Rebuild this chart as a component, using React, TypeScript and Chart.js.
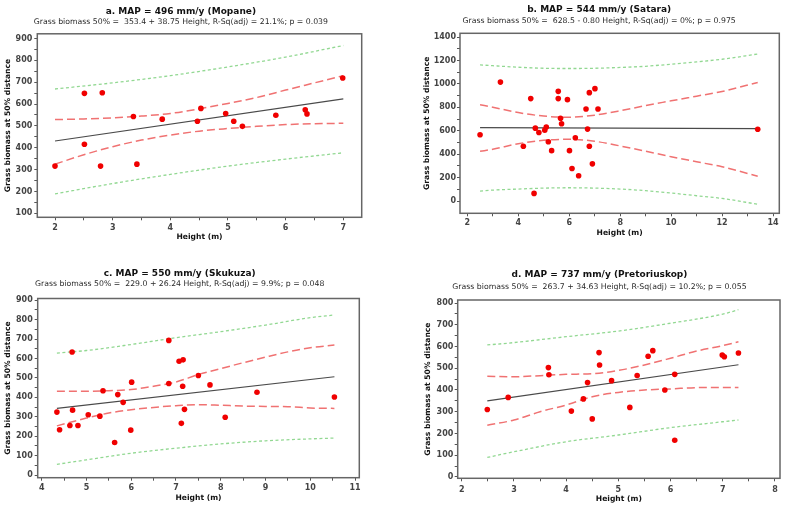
import React, { useEffect, useRef } from "react";
import { Chart, registerables } from "chart.js";

Chart.register(...registerables);
Chart.defaults.font.family = "'DejaVu Sans', sans-serif";

// ---------- Panel a : Mopane ----------
const aTitle = "a. MAP = 496 mm/y (Mopane)";
const aSubtitle = "Grass biomass 50% =  353.4 + 38.75 Height, R-Sq(adj) = 21.1%; p = 0.039";
const aHeight = [2.0, 2.51, 2.51, 2.82, 2.79, 3.36, 3.42, 3.86, 4.47, 4.53, 4.96, 5.1, 5.25, 5.83, 6.34, 6.37, 6.99];
const aBiomass = [316, 649, 416, 652, 316, 543, 325, 531, 521, 580, 557, 521, 498, 549, 574, 555, 719];
const aFitX = [2, 7];
const aFitY = [431, 624];
const aBandX = [2, 2.5, 3, 3.5, 4, 4.5, 5, 5.5, 6, 6.5, 7];
const aCiUpper = [529, 532, 537, 545, 557, 578, 603, 630, 664, 697, 730];
const aCiLower = [325, 368, 405, 435, 458, 476, 488, 498, 506, 510, 512];
const aPiX = [2, 3, 4, 5, 6, 7];
const aPiUpper = [669, 697, 730, 770, 815, 868];
const aPiLower = [189, 236, 278, 316, 348, 377];
const aXTicks = [2, 3, 4, 5, 6, 7];
const aYTicks = [100, 200, 300, 400, 500, 600, 700, 800, 900];

// ---------- Panel b : Satara ----------
const bTitle = "b. MAP = 544 mm/y (Satara)";
const bSubtitle = "Grass biomass 50% =  628.5 - 0.80 Height, R-Sq(adj) = 0%; p = 0.975";
const bHeight = [2.5, 3.3, 4.2, 4.49, 4.62, 4.67, 4.81, 5.04, 5.1, 5.18, 5.31, 5.57, 5.57, 5.66, 5.7, 5.93, 6.01, 6.11, 6.24, 6.37, 6.66, 6.72, 6.79, 6.79, 6.91, 7.01, 7.13, 13.4];
const bBiomass = [566, 1015, 467, 874, 65, 622, 585, 605, 631, 506, 430, 936, 874, 707, 659, 865, 430, 277, 540, 215, 786, 614, 925, 467, 317, 959, 786, 612];
const bFitX = [2.5, 13.4];
const bFitY = [626, 618];
const bBandX = [2.5, 3, 4, 5, 6, 7, 8, 9, 10, 11, 12, 13.4];
const bCiUpper = [822, 800, 755, 725, 715, 733, 770, 815, 855, 895, 935, 1012];
const bCiLower = [424, 442, 489, 518, 527, 510, 470, 425, 378, 335, 292, 212];
const bPiUpper = [1162, 1155, 1142, 1133, 1131, 1133, 1140, 1150, 1168, 1188, 1210, 1255];
const bPiLower = [85, 93, 102, 110, 113, 110, 102, 88, 68, 45, 22, -28];
const bXTicks = [2, 4, 6, 8, 10, 12, 14];
const bYTicks = [0, 200, 400, 600, 800, 1000, 1200, 1400];

// ---------- Panel c : Skukuza ----------
const cTitle = "c. MAP = 550 mm/y (Skukuza)";
const cSubtitle = "Grass biomass 50% =  229.0 + 26.24 Height, R-Sq(adj) = 9.9%; p = 0.048";
const cHeight = [4.34, 4.4, 4.63, 4.68, 4.69, 4.81, 5.04, 5.3, 5.37, 5.63, 5.7, 5.82, 5.99, 6.01, 6.84, 6.84, 7.07, 7.16, 7.12, 7.15, 7.19, 7.5, 7.76, 8.1, 8.81, 10.54];
const cBiomass = [324, 233, 255, 633, 334, 255, 310, 303, 434, 167, 414, 374, 231, 478, 693, 471, 586, 593, 266, 457, 338, 512, 464, 297, 426, 402];
const cFitX = [4.34, 10.54];
const cFitY = [343, 506];
const cBandX = [4.34, 5, 5.5, 6, 6.5, 7, 7.5, 8, 8.5, 9, 9.5, 10, 10.54];
const cCiUpper = [431, 431, 434, 440, 457, 479, 517, 548, 578, 607, 634, 655, 669];
const cCiLower = [253, 293, 319, 336, 348, 357, 362, 359, 355, 353, 352, 345, 343];
const cPiX = [4.34, 5, 6, 7, 8, 9, 10, 10.54];
const cPiUpper = [628, 641, 672, 707, 738, 772, 810, 824];
const cPiLower = [55, 78, 112, 138, 160, 176, 186, 190];
const cXTicks = [4, 5, 6, 7, 8, 9, 10, 11];
const cYTicks = [0, 100, 200, 300, 400, 500, 600, 700, 800, 900];

// ---------- Panel d : Pretoriuskop ----------
const dTitle = "d. MAP = 737 mm/y (Pretoriuskop)";
const dSubtitle = "Grass biomass 50% =  263.7 + 34.63 Height, R-Sq(adj) = 10.2%; p = 0.055";
const dHeight = [2.49, 2.89, 3.66, 3.67, 4.1, 4.33, 4.41, 4.5, 4.63, 4.64, 4.87, 5.22, 5.36, 5.57, 5.66, 5.89, 6.08, 6.08, 6.99, 7.03, 7.3];
const dBiomass = [310, 366, 503, 470, 303, 359, 434, 267, 572, 515, 443, 320, 467, 555, 581, 400, 472, 169, 561, 553, 570];
const dFitX = [2.49, 7.3];
const dFitY = [350, 516];
const dBandX = [2.49, 3, 3.5, 4, 4.5, 5, 5.5, 6, 6.5, 7, 7.3];
const dCiUpper = [463, 461, 466, 472, 475, 490, 515, 546, 579, 604, 622];
const dCiLower = [238, 262, 300, 331, 369, 389, 400, 405, 411, 412, 412];
const dPiX = [2.49, 3, 4, 5, 6, 7, 7.3];
const dPiUpper = [607, 618, 645, 671, 707, 749, 769];
const dPiLower = [90, 116, 162, 193, 227, 254, 262];
const dXTicks = [2, 3, 4, 5, 6, 7, 8];
const dYTicks = [0, 100, 200, 300, 400, 500, 600, 700, 800];

const xAxisTitle = "Height (m)";
const yAxisTitle = "Grass biomass at 50% distance";

type Layout = {
  box: { x: number; y: number; w: number; h: number };
  padRight: number;
  titlePadTop: number;
  subPadTop: number;
  subPadBottom: number;
  yAxisW: number;
  xAxisH: number;
  yTitlePad: number;
  yTickPad: number;
  xTitlePadBottom: number;
  xTickPad: number;
  xMin: number;
  xMax: number;
  yMin: number;
  yMax: number;
};

type PanelData = {
  title: string;
  subtitle: string;
  px: number[];
  py: number[];
  fitX: number[];
  fitY: number[];
  ciX: number[];
  ciU: number[];
  ciL: number[];
  piX: number[];
  piU: number[];
  piL: number[];
  xTicks: number[];
  yTicks: number[];
};

const pts = (xs: number[], ys: number[]) => xs.map((x, i) => ({ x, y: ys[i] }));

// majors plus midpoints between them (minor tick marks)
const withMinors = (t: number[]) => {
  const out: number[] = [];
  t.forEach((v, i) => {
    out.push(v);
    if (i < t.length - 1) out.push((v + t[i + 1]) / 2);
  });
  return out;
};

const framePlugin = {
  id: "frame",
  beforeDatasetsDraw(chart: any) {
    const { ctx, chartArea } = chart;
    const { left, top, right, bottom } = chartArea;
    ctx.save();
    ctx.strokeStyle = "#666666";
    ctx.lineWidth = 1.5;
    ctx.strokeRect(left, top, right - left, bottom - top);
    ctx.restore();
  },
};

function Panel({ d, l }: { d: PanelData; l: Layout }) {
  const ref = useRef<HTMLCanvasElement>(null);
  useEffect(() => {
    const xAll = withMinors(d.xTicks);
    const yAll = withMinors(d.yTicks);
    const isMajor = (arr: number[], v: number) => arr.some((m) => Math.abs(m - v) < 1e-6);
    const chart = new Chart(ref.current as HTMLCanvasElement, {
      type: "scatter",
      data: {
        datasets: [
          {
            data: pts(d.px, d.py),
            pointRadius: 2.8,
            pointBackgroundColor: "#f00000",
            pointBorderWidth: 0,
            backgroundColor: "#f00000",
          },
          {
            data: pts(d.fitX, d.fitY),
            showLine: true,
            pointRadius: 0,
            borderColor: "#4a4a4a",
            borderWidth: 1.2,
          },
          {
            data: pts(d.ciX, d.ciU),
            showLine: true,
            pointRadius: 0,
            borderColor: "#f07272",
            borderWidth: 1.5,
            borderDash: [8, 4],
            cubicInterpolationMode: "monotone",
          },
          {
            data: pts(d.ciX, d.ciL),
            showLine: true,
            pointRadius: 0,
            borderColor: "#f07272",
            borderWidth: 1.5,
            borderDash: [8, 4],
            cubicInterpolationMode: "monotone",
          },
          {
            data: pts(d.piX, d.piU),
            showLine: true,
            pointRadius: 0,
            borderColor: "#92d892",
            borderWidth: 1.3,
            borderDash: [3, 2.5],
            cubicInterpolationMode: "monotone",
          },
          {
            data: pts(d.piX, d.piL),
            showLine: true,
            pointRadius: 0,
            borderColor: "#92d892",
            borderWidth: 1.3,
            borderDash: [3, 2.5],
            cubicInterpolationMode: "monotone",
          },
        ] as any,
      },
      options: {
        animation: false,
        responsive: false,
        devicePixelRatio: 1,
        events: [],
        layout: { padding: { top: 0, left: 0, right: l.padRight, bottom: 0 } },
        plugins: {
          legend: { display: false },
          tooltip: { enabled: false },
          title: {
            display: true,
            text: d.title,
            color: "#111",
            font: { size: 9, weight: "bold", lineHeight: "11px" } as any,
            padding: { top: l.titlePadTop, bottom: 0 },
          },
          subtitle: {
            display: true,
            text: d.subtitle,
            color: "#2a2a2a",
            font: { size: 7.75, lineHeight: "10px" } as any,
            padding: { top: l.subPadTop, bottom: l.subPadBottom },
          },
        },
        scales: {
          x: {
            type: "linear",
            min: l.xMin,
            max: l.xMax,
            afterBuildTicks: (s: any) => {
              s.ticks = xAll.map((v) => ({ value: v }));
            },
            afterFit: (s: any) => {
              s.height = l.xAxisH;
            },
            ticks: {
              autoSkip: false,
              maxRotation: 0,
              padding: l.xTickPad,
              color: "#444",
              font: { size: 8, weight: "bold" },
              callback: (v: any) => (isMajor(d.xTicks, Number(v)) ? String(v) : ""),
            },
            grid: { drawOnChartArea: false, drawTicks: true, tickLength: 3, color: "#555" },
            border: { display: false },
            title: {
              display: true,
              text: xAxisTitle,
              color: "#111",
              font: { size: 7.6, weight: "bold", lineHeight: "10px" } as any,
              padding: { top: 0, bottom: l.xTitlePadBottom },
            },
          },
          y: {
            type: "linear",
            min: l.yMin,
            max: l.yMax,
            afterBuildTicks: (s: any) => {
              s.ticks = yAll.map((v) => ({ value: v }));
            },
            afterFit: (s: any) => {
              s.width = l.yAxisW;
            },
            ticks: {
              autoSkip: false,
              padding: l.yTickPad,
              color: "#444",
              font: { size: 8, weight: "bold" },
              callback: (v: any) => (isMajor(d.yTicks, Number(v)) ? String(v) : ""),
            },
            grid: { drawOnChartArea: false, drawTicks: true, tickLength: 3, color: "#555" },
            border: { display: false },
            title: {
              display: true,
              text: yAxisTitle,
              color: "#111",
              font: { size: 7.6, weight: "bold", lineHeight: "10px" } as any,
              padding: { top: l.yTitlePad, bottom: 0 },
            },
          },
        },
      } as any,
      plugins: [framePlugin],
    });
    return () => chart.destroy();
  }, [d, l]);
  return (
    <canvas
      ref={ref}
      width={l.box.w}
      height={l.box.h}
      style={{ position: "absolute", left: l.box.x, top: l.box.y, width: l.box.w, height: l.box.h }}
    />
  );
}

const panelA: PanelData = {
  title: aTitle, subtitle: aSubtitle, px: aHeight, py: aBiomass, fitX: aFitX, fitY: aFitY,
  ciX: aBandX, ciU: aCiUpper, ciL: aCiLower, piX: aPiX, piU: aPiUpper, piL: aPiLower,
  xTicks: aXTicks, yTicks: aYTicks,
};
const panelB: PanelData = {
  title: bTitle, subtitle: bSubtitle, px: bHeight, py: bBiomass, fitX: bFitX, fitY: bFitY,
  ciX: bBandX, ciU: bCiUpper, ciL: bCiLower, piX: bBandX, piU: bPiUpper, piL: bPiLower,
  xTicks: bXTicks, yTicks: bYTicks,
};
const panelC: PanelData = {
  title: cTitle, subtitle: cSubtitle, px: cHeight, py: cBiomass, fitX: cFitX, fitY: cFitY,
  ciX: cBandX, ciU: cCiUpper, ciL: cCiLower, piX: cPiX, piU: cPiUpper, piL: cPiLower,
  xTicks: cXTicks, yTicks: cYTicks,
};
const panelD: PanelData = {
  title: dTitle, subtitle: dSubtitle, px: dHeight, py: dBiomass, fitX: dFitX, fitY: dFitY,
  ciX: dBandX, ciU: dCiUpper, ciL: dCiLower, piX: dPiX, piU: dPiUpper, piL: dPiLower,
  xTicks: dXTicks, yTicks: dYTicks,
};

const layoutA: Layout = {
  box: { x: 0, y: 0, w: 370, h: 250 }, padRight: 8.3, titlePadTop: 6.2, subPadTop: 0, subPadBottom: 6.6,
  yAxisW: 37.3, xAxisH: 32.7, yTitlePad: 2.8, yTickPad: 2, xTitlePadBottom: 8.3, xTickPad: 3,
  xMin: 1.693, xMax: 7.319, yMin: 81.6, yMax: 921.6,
};
const layoutB: Layout = {
  box: { x: 419, y: 0, w: 368, h: 250 }, padRight: 7.7, titlePadTop: 4.5, subPadTop: 0.2, subPadBottom: 7.6,
  yAxisW: 41, xAxisH: 36.7, yTitlePad: 3.5, yTickPad: 1, xTitlePadBottom: 11.7, xTickPad: 2,
  xMin: 1.713, xMax: 14.247, yMin: -105, yMax: 1431.6,
};
const layoutC: Layout = {
  box: { x: 0, y: 250, w: 376, h: 259 }, padRight: 16.7, titlePadTop: 17.8, subPadTop: 0.5, subPadBottom: 9.2,
  yAxisW: 37.7, xAxisH: 31.3, yTitlePad: 2.8, yTickPad: 2, xTitlePadBottom: 5.7, xTickPad: 2.6,
  xMin: 3.911, xMax: 11.096, yMin: -13.9, yMax: 908.8,
};
const layoutD: Layout = {
  box: { x: 419, y: 250, w: 368, h: 259 }, padRight: 7, titlePadTop: 19.5, subPadTop: 1.2, subPadBottom: 8.3,
  yAxisW: 38.7, xAxisH: 30.7, yTitlePad: 4, yTickPad: 1.4, xTitlePadBottom: 4.7, xTickPad: 3.5,
  xMin: 1.923, xMax: 8.096, yMin: -6, yMax: 813.8,
};

export default function App() {
  return (
    <div
      style={{
        position: "fixed",
        left: 0,
        top: 0,
        width: 787,
        height: 509,
        background: "#ffffff",
        overflow: "hidden",
      }}
    >
      <Panel d={panelA} l={layoutA} />
      <Panel d={panelB} l={layoutB} />
      <Panel d={panelC} l={layoutC} />
      <Panel d={panelD} l={layoutD} />
    </div>
  );
}
